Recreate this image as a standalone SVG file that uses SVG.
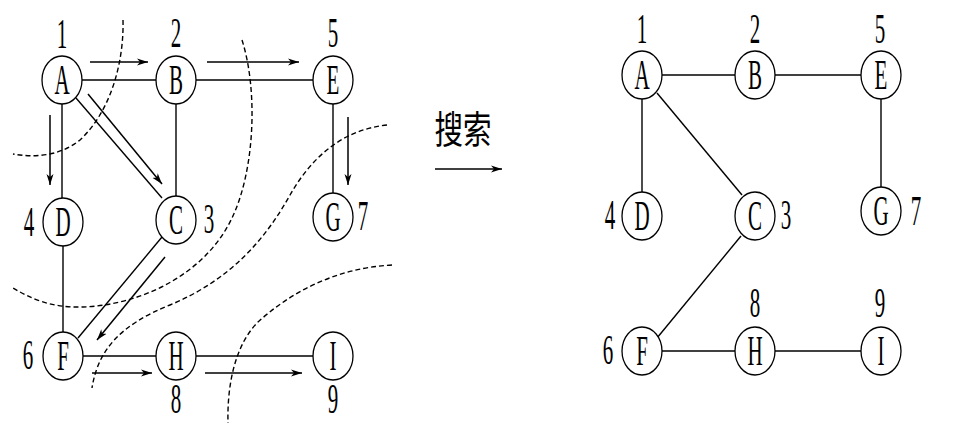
<svg xmlns="http://www.w3.org/2000/svg" width="960" height="432" viewBox="0 0 960 432">
<style>
.bg{fill:#ffffff}
.nd{fill:#ffffff;stroke:#000;stroke-width:1.3}
.t{font-family:"Liberation Serif","Times New Roman",serif;font-size:42px;fill:#000;text-anchor:middle}
.cjk{font-family:"Noto Sans CJK SC","Noto Sans CJK JP",sans-serif;font-size:38px;fill:#000;text-anchor:middle}
.e{stroke:#000;stroke-width:1.4;fill:none}
.a{stroke:#000;stroke-width:1.5;fill:none;marker-end:url(#ah)}
.d{stroke:#000;stroke-width:1.4;fill:none;stroke-dasharray:5 3}
</style>
<defs>
<marker id="ah" markerUnits="userSpaceOnUse" markerWidth="12" markerHeight="8" refX="11" refY="4" orient="auto">
<path d="M0,0.5 L11,4 L0,7.5 L3,4 Z" fill="#000"/>
</marker>
</defs>
<rect class="bg" x="0" y="0" width="960" height="432"/>

<g id="connectors">
<!-- left graph edges -->
<line class="e" x1="82" y1="80" x2="156" y2="80"/>
<line class="e" x1="196" y1="80" x2="313" y2="80"/>
<line class="e" x1="62" y1="104" x2="62" y2="198"/>
<line class="e" x1="76" y1="98" x2="162" y2="198"/>
<line class="e" x1="176" y1="104" x2="176" y2="196"/>
<line class="e" x1="333" y1="104" x2="333" y2="193"/>
<line class="e" x1="63" y1="246" x2="63" y2="332"/>
<line class="e" x1="162" y1="237" x2="78" y2="338"/>
<line class="e" x1="83" y1="356" x2="156" y2="356"/>
<line class="e" x1="196" y1="356" x2="313" y2="356"/>
<!-- traversal arrows -->
<line class="a" x1="90" y1="62" x2="148" y2="62"/>
<line class="a" x1="207" y1="62" x2="299" y2="62"/>
<line class="a" x1="50" y1="115" x2="50" y2="185"/>
<line class="a" x1="88" y1="94" x2="162" y2="184"/>
<line class="a" x1="348" y1="117" x2="348" y2="185"/>
<line class="a" x1="165" y1="257" x2="97" y2="340"/>
<line class="a" x1="92" y1="373" x2="152" y2="373"/>
<line class="a" x1="205" y1="373" x2="302" y2="373"/>
<!-- dashed level curves -->
<path class="d" d="M123,20 C124,60 112,110 80,140 C60,156 35,158 13,154"/>
<path class="d" d="M242,40 C258,90 255,170 232,218 C205,275 140,305 83,307 C50,308 30,298 13,288"/>
<path class="d" d="M387,125 C340,130 310,160 290,195 C265,240 230,280 170,305 C120,325 98,350 92,388"/>
<path class="d" d="M392,265 C335,268 290,293 258,322 C235,345 227,385 228,423"/>
<!-- middle arrow -->
<line class="a" x1="435" y1="169" x2="502" y2="169"/>
<!-- right graph edges -->
<line class="e" x1="662" y1="75" x2="735" y2="75"/>
<line class="e" x1="775" y1="75" x2="861" y2="75"/>
<line class="e" x1="642" y1="99" x2="642" y2="192"/>
<line class="e" x1="657" y1="93" x2="742" y2="195"/>
<line class="e" x1="881" y1="99" x2="881" y2="187"/>
<line class="e" x1="741" y1="236" x2="657" y2="338"/>
<line class="e" x1="662" y1="351" x2="735" y2="351"/>
<line class="e" x1="775" y1="351" x2="861" y2="351"/>
</g>

<text class="cjk" transform="translate(463,143) scale(0.75,1)">搜索</text>

<!-- left graph nodes -->
<g id="L-A"><ellipse class="nd" cx="62" cy="80" rx="20" ry="24"/><text class="t" transform="translate(62,94) scale(0.5,1)">A</text><text class="t" transform="translate(62,48) scale(0.5,1)">1</text></g>
<g id="L-B"><ellipse class="nd" cx="176" cy="80" rx="20" ry="24"/><text class="t" transform="translate(176,94) scale(0.5,1)">B</text><text class="t" transform="translate(176,47) scale(0.5,1)">2</text></g>
<g id="L-E"><ellipse class="nd" cx="333" cy="80" rx="20" ry="24"/><text class="t" transform="translate(333,94) scale(0.5,1)">E</text><text class="t" transform="translate(333,47) scale(0.5,1)">5</text></g>
<g id="L-D"><ellipse class="nd" cx="63" cy="222" rx="20" ry="24"/><text class="t" transform="translate(63,236) scale(0.5,1)">D</text><text class="t" transform="translate(29,236) scale(0.5,1)">4</text></g>
<g id="L-C"><ellipse class="nd" cx="176" cy="220" rx="20" ry="24"/><text class="t" transform="translate(176,234) scale(0.5,1)">C</text><text class="t" transform="translate(209,233) scale(0.5,1)">3</text></g>
<g id="L-G"><ellipse class="nd" cx="333" cy="217" rx="20" ry="24"/><text class="t" transform="translate(333,231) scale(0.5,1)">G</text><text class="t" transform="translate(363,230) scale(0.5,1)">7</text></g>
<g id="L-F"><ellipse class="nd" cx="63" cy="356" rx="20" ry="24"/><text class="t" transform="translate(63,370) scale(0.5,1)">F</text><text class="t" transform="translate(28,369) scale(0.5,1)">6</text></g>
<g id="L-H"><ellipse class="nd" cx="176" cy="356" rx="20" ry="24"/><text class="t" transform="translate(176,370) scale(0.5,1)">H</text><text class="t" transform="translate(176,413) scale(0.5,1)">8</text></g>
<g id="L-I"><ellipse class="nd" cx="333" cy="356" rx="20" ry="24"/><text class="t" transform="translate(333,370) scale(0.5,1)">I</text><text class="t" transform="translate(333,413) scale(0.5,1)">9</text></g>

<!-- right graph nodes -->
<g id="R-A"><ellipse class="nd" cx="642" cy="75" rx="20" ry="24"/><text class="t" transform="translate(642,89) scale(0.5,1)">A</text><text class="t" transform="translate(642,43) scale(0.5,1)">1</text></g>
<g id="R-B"><ellipse class="nd" cx="755" cy="75" rx="20" ry="24"/><text class="t" transform="translate(755,89) scale(0.5,1)">B</text><text class="t" transform="translate(755,43) scale(0.5,1)">2</text></g>
<g id="R-E"><ellipse class="nd" cx="881" cy="75" rx="20" ry="24"/><text class="t" transform="translate(881,89) scale(0.5,1)">E</text><text class="t" transform="translate(880,43) scale(0.5,1)">5</text></g>
<g id="R-D"><ellipse class="nd" cx="642" cy="216" rx="20" ry="24"/><text class="t" transform="translate(642,230) scale(0.5,1)">D</text><text class="t" transform="translate(610,229) scale(0.5,1)">4</text></g>
<g id="R-C"><ellipse class="nd" cx="755" cy="216" rx="20" ry="24"/><text class="t" transform="translate(755,230) scale(0.5,1)">C</text><text class="t" transform="translate(786,229) scale(0.5,1)">3</text></g>
<g id="R-G"><ellipse class="nd" cx="881" cy="211" rx="20" ry="24"/><text class="t" transform="translate(881,225) scale(0.5,1)">G</text><text class="t" transform="translate(916,225) scale(0.5,1)">7</text></g>
<g id="R-F"><ellipse class="nd" cx="642" cy="351" rx="20" ry="24"/><text class="t" transform="translate(642,365) scale(0.5,1)">F</text><text class="t" transform="translate(608,364) scale(0.5,1)">6</text></g>
<g id="R-H"><ellipse class="nd" cx="755" cy="351" rx="20" ry="24"/><text class="t" transform="translate(755,365) scale(0.5,1)">H</text><text class="t" transform="translate(755,317) scale(0.5,1)">8</text></g>
<g id="R-I"><ellipse class="nd" cx="881" cy="351" rx="20" ry="24"/><text class="t" transform="translate(881,365) scale(0.5,1)">I</text><text class="t" transform="translate(880,317) scale(0.5,1)">9</text></g>
</svg>
